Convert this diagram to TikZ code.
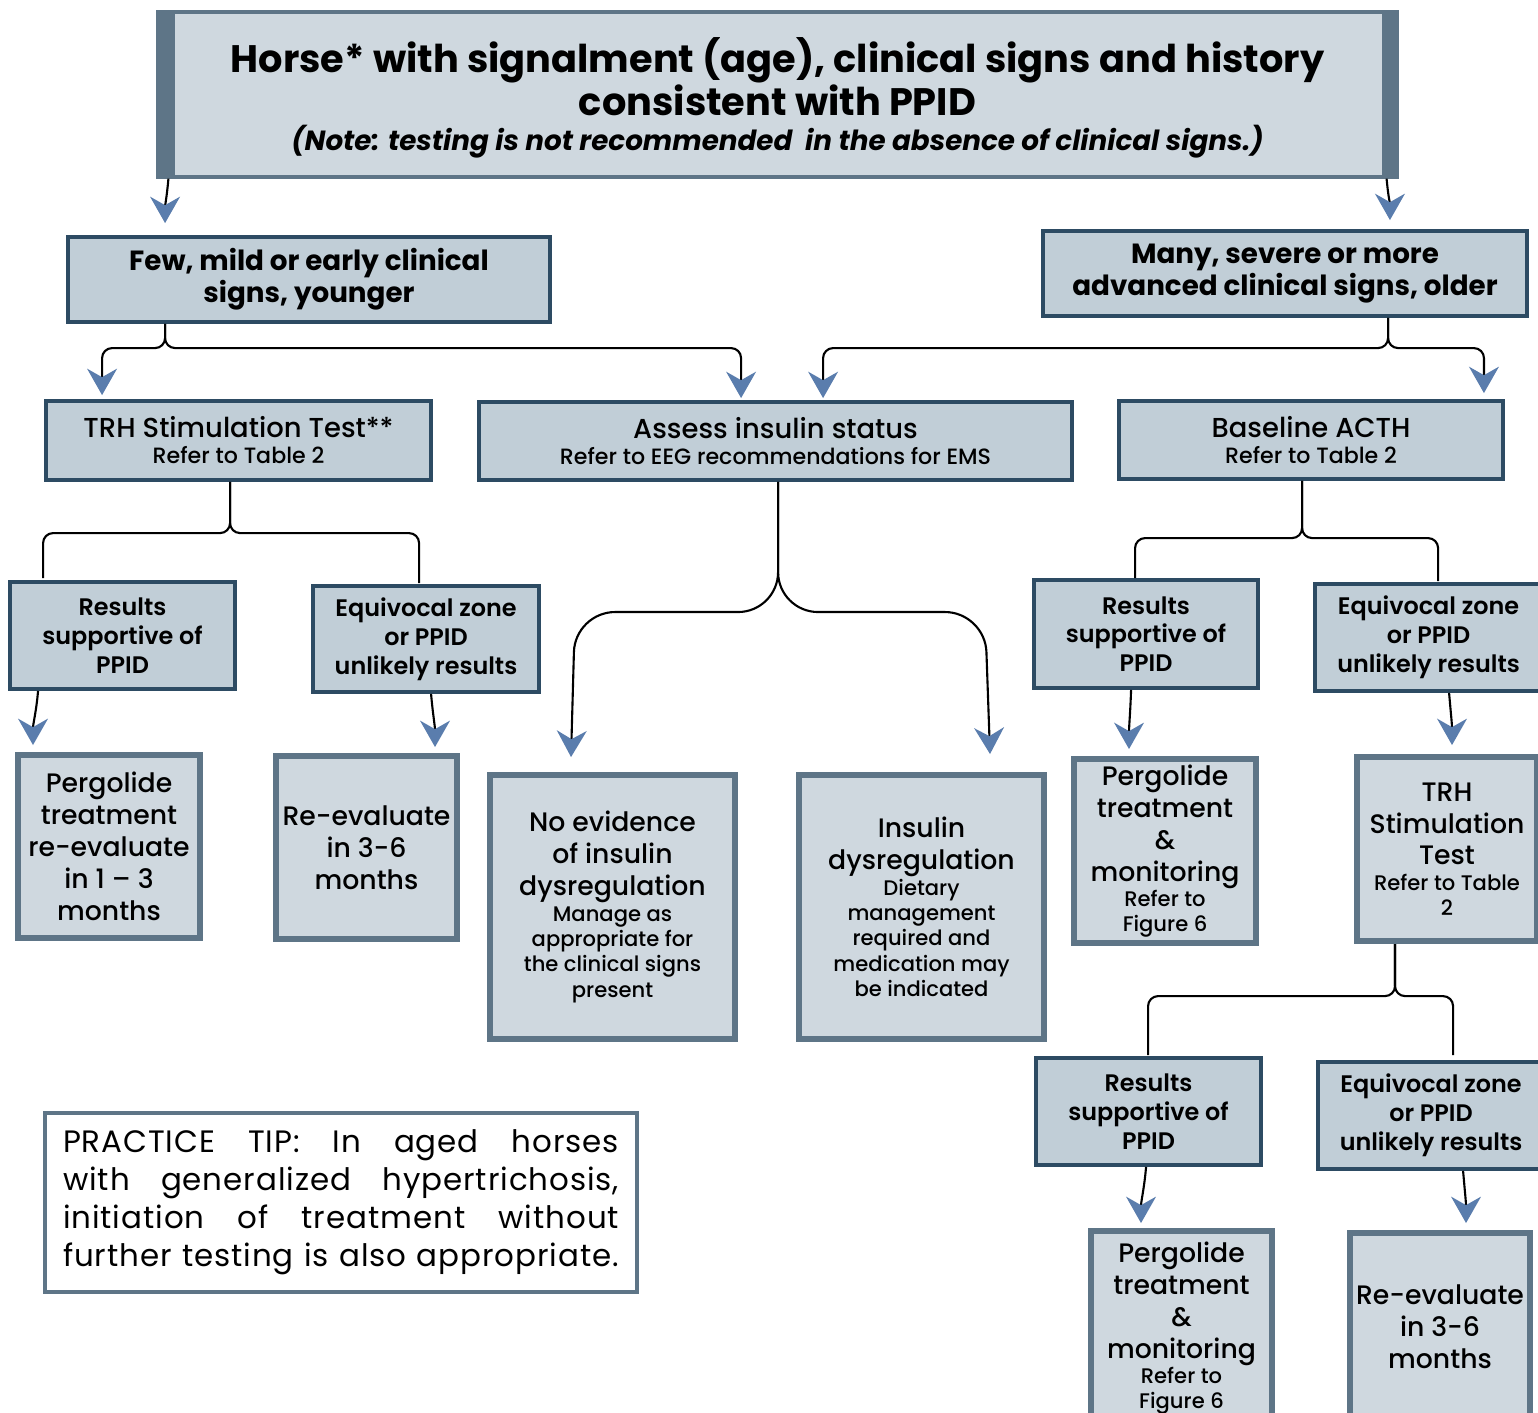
\documentclass[tikz,border=0pt]{standalone}
\usepackage{fontspec}
\setmainfont{Poppins}
\newfontfamily\semib{Poppins SemiBold}
\newfontfamily\medium{Poppins Medium}
\usepackage{tikz}
\usetikzlibrary{arrows.meta}
\usetikzlibrary{calc}
\usetikzlibrary{positioning}

\definecolor{deciFill}{HTML}{C1CED7}
\definecolor{deciLine}{HTML}{2D4B63}
\definecolor{outFill}{HTML}{CFD8DF}
\definecolor{outLine}{HTML}{5E7587}
\definecolor{tipBlue}{HTML}{5A7DAD}

\newcommand\nospread{\spaceskip=0pt\xspaceskip=0pt}
\newcommand\headfont{\bfseries\fontsize{10.9}{12.2}\selectfont\nospread}
\newcommand\notefont{\bfseries\itshape\fontsize{7.9}{10}\selectfont\nospread}
\newcommand\decifont{\bfseries\fontsize{7.9}{9.1}\selectfont\nospread}
\newcommand\testfont{\medium\fontsize{7.8}{8.4}\selectfont\nospread}
\newcommand\resfont{\semib\fontsize{6.8}{8.2}\selectfont\nospread}
\newcommand\outfont{\medium\fontsize{7.6}{9.1}\selectfont\nospread}
\newcommand\smallfont{\fontsize{6.3}{7.4}\selectfont\nospread}
\newcommand\subfont{\fontsize{6}{7.2}\selectfont\nospread}

\tikzset{
  topbox/.style={draw=outLine, fill=outFill, line width=0.9pt, align=flush center, inner sep=0pt},
  decision/.style={draw=deciLine, fill=deciFill, line width=1.1pt, align=flush center, inner sep=0pt},
  outcome/.style={draw=outLine, fill=outFill, line width=1.7pt, align=flush center, inner sep=0pt},
  tipbox/.style={draw=outLine, fill=white, line width=1.2pt, inner sep=0pt},
  link/.style={draw=black, line width=0.6pt, rounded corners=1mm},
  arrowlink/.style={link, -{Stealth[length=7.5pt, width=8.5pt, inset=2.4pt, color=tipBlue]}}
}

\begin{document}
\begin{tikzpicture}[x=0.1mm, y=-0.1mm]
  \useasboundingbox (0,0) rectangle (1538,1412);

  % top question
  \node[topbox, minimum width=12.39cm, minimum height=1.65cm, text width=12cm]
    (horse) at (777.5,94.5)
    {\headfont\rule{0pt}{12pt}Horse* with signalment (age), clinical signs and history\\consistent with PPID\par
     {\notefont (Note: testing is not recommended\ \ in the absence of clinical signs.)\par}};
  \fill[outLine] (horse.north west) rectangle ($(horse.south west)+(19,0)$);
  \fill[outLine] ($(horse.north east)+(-17,0)$) rectangle (horse.south east);

  % severity
  \node[decision, minimum width=4.82cm, minimum height=0.85cm, text width=4.8cm]
    (few) at (309,279.5) {\decifont Few, mild or early clinical\\signs, younger\par};
  \node[decision, minimum width=4.84cm, minimum height=0.85cm, text width=4.8cm]
    (many) at (1285,273.5) {\decifont Many, severe or more\\advanced clinical signs, older\par};

  % tests
  \node[decision, minimum width=3.85cm, minimum height=0.79cm, text width=3.8cm]
    (trhA) at (238.5,440.5) {\testfont TRH Stimulation Test**\par{\smallfont Refer to Table 2\par}};
  \node[decision, minimum width=5.93cm, minimum height=0.78cm, text width=5.9cm]
    (insulin) at (775.5,441) {\testfont Assess insulin status\par{\smallfont Refer to EEG recommendations for EMS\par}};
  \node[decision, minimum width=3.84cm, minimum height=0.78cm, text width=3.8cm]
    (acth) at (1311,440) {\testfont Baseline ACTH\par{\smallfont Refer to Table 2\par}};

  % results
  \node[decision, minimum width=2.25cm, minimum height=1.07cm, text width=2.25cm]
    (resA) at (122.5,635.5) {\resfont Results\\supportive of\\PPID\par};
  \node[decision, minimum width=2.26cm, minimum height=1.06cm, text width=2.26cm]
    (eqA) at (426,639) {\resfont Equivocal zone\\or PPID\\unlikely results\par};
  \node[decision, minimum width=2.24cm, minimum height=1.08cm, text width=2.24cm]
    (resB) at (1146,634) {\resfont Results\\supportive of\\PPID\par};
  \node[decision, minimum width=2.27cm, minimum height=1.07cm, text width=2.27cm]
    (eqB) at (1428.5,637.5) {\resfont Equivocal zone\\or PPID\\unlikely results\par};
  \node[decision, minimum width=2.25cm, minimum height=1.07cm, text width=2.25cm]
    (resC) at (1148.5,1111.5) {\resfont Results\\supportive of\\PPID\par};
  \node[decision, minimum width=2.26cm, minimum height=1.07cm, text width=2.26cm]
    (eqC) at (1431,1115.5) {\resfont Equivocal zone\\or PPID\\unlikely results\par};

  % outcomes
  \node[outcome, minimum width=1.82cm, minimum height=1.83cm, text width=1.82cm]
    (pergA) at (109,846.5) {\outfont Pergolide\\treatment\\re-evaluate\\in 1 – 3\\months\par};
  \node[outcome, minimum width=1.81cm, minimum height=1.83cm, text width=1.81cm]
    (reevA) at (366.5,847.5) {\outfont Re-evaluate\\in 3-6\\months\par};
  \node[outcome, minimum width=2.45cm, minimum height=2.64cm, text width=2.45cm]
    (noev) at (612.5,907) {\outfont No evidence\\of insulin\\dysregulation\par
      {\subfont Manage as\\appropriate for\\the clinical signs\\present\par}};
  \node[outcome, minimum width=2.45cm, minimum height=2.64cm, text width=2.45cm]
    (insdys) at (921.5,907) {\outfont Insulin\\dysregulation\par
      {\subfont Dietary\\management\\required and\\medication may\\be indicated\par}};
  \node[outcome, minimum width=1.82cm, minimum height=1.84cm, text width=1.82cm]
    (pergB) at (1165,851) {\outfont Pergolide\\treatment\\\&\\monitoring\par
      {\subfont Refer to\\Figure 6\par}};
  \node[outcome, minimum width=1.80cm, minimum height=1.84cm, text width=1.80cm]
    (trhB) at (1447,849) {\outfont TRH\\Stimulation\\Test\par
      {\subfont Refer to Table\\2\par}};
  \node[outcome, minimum width=1.81cm, minimum height=1.94cm, text width=1.81cm]
    (pergC) at (1181.5,1328) {\outfont Pergolide\\treatment\\\&\\monitoring\par
      {\subfont Refer to\\Figure 6\par}};
  \node[outcome, minimum width=1.80cm, minimum height=1.87cm, text width=1.80cm]
    (reevC) at (1440,1326.5) {\outfont Re-evaluate\\in 3-6\\months\par};

  % practice tip
  \node[tipbox, minimum width=5.92cm, minimum height=1.79cm, text width=5.56cm]
    (tip) at (341,1202.5)
    {\fontsize{8.8}{10.8}\selectfont\addfontfeature{LetterSpace=3}%
     \spaceskip=0.25em plus 1em\relax
     \makebox[5.56cm][s]{PRACTICE TIP: In aged horses}\\
     \makebox[5.56cm][s]{with generalized hypertrichosis,}\\
     \makebox[5.56cm][s]{initiation of treatment without}\\
     \makebox[5.56cm][s]{further testing is also appropriate.}\par};

  % connectors
  \draw[arrowlink] ($(horse.south west)+(12,0)$) to[out=-95,in=90] ($(few.north west)+(99,-12)$);
  \draw[arrowlink] ($(horse.south east)+(-12,0)$) to[out=-85,in=90] ($(many.north east)+(-139,-9)$);

  \draw[arrowlink] ($(few.south west)+(99,0)$) |- ($(trhA.north west)+(58,-51)$) -- ($(trhA.north west)+(58,-4)$);
  \draw[arrowlink] ($(few.south west)+(99,0)$) |- ($(insulin.north west)+(264,-52)$) -- ($(insulin.north west)+(264,-2)$);
  \draw[arrowlink] ($(many.south west)+(347,0)$) |- ($(insulin.north west)+(346,-52)$) -- ($(insulin.north west)+(346,-2)$);
  \draw[arrowlink] ($(many.south west)+(347,0)$) |- ($(acth.north east)+(-21,-51)$) -- ($(acth.north east)+(-21,-6)$);

  \draw[link] ($(trhA.south west)+(186,0)$) |- ($(resA.north west)+(35,-47)$) -- ($(resA.north west)+(35,-2)$);
  \draw[link] ($(trhA.south west)+(186,0)$) |- ($(eqA.north west)+(108,-51)$) -- ($(eqA.north west)+(108,-1)$);

  \draw[arrowlink, rounded corners=4mm] ($(insulin.south west)+(301,0)$) |- ($(noev.north west)+(88,-160)$) -- ($(noev.north west)+(84,-15)$);
  \draw[arrowlink, rounded corners=4mm] ($(insulin.south west)+(301,0)$) |- ($(insdys.north west)+(189,-160)$) -- ($(insdys.north west)+(194,-18)$);

  \draw[link] ($(acth.south west)+(185,0)$) |- ($(resB.north west)+(103,-40)$) -- ($(resB.north west)+(103,0)$);
  \draw[link] ($(acth.south west)+(185,0)$) |- ($(eqB.north west)+(125,-44)$) -- ($(eqB.north west)+(125,-1)$);

  \draw[link] ($(trhB.south west)+(41,0)$) |- ($(resC.north west)+(114,-60)$) -- ($(resC.north west)+(114,-1)$);
  \draw[link] ($(trhB.south west)+(41,0)$) |- ($(eqC.north west)+(137,-64)$) -- ($(eqC.north west)+(137,-5)$);

  \draw[arrowlink] ($(resA.south west)+(30,0)$) to[out=-95,in=90] ($(pergA.north west)+(18,-7)$);
  \draw[arrowlink] ($(eqA.south west)+(120,0)$) to[out=-85,in=90] ($(reevA.north west)+(162,-6)$);
  \draw[arrowlink] ($(resB.south west)+(99,0)$) to[out=-92,in=90] ($(pergB.north west)+(58,-7)$);
  \draw[arrowlink] ($(eqB.south west)+(136,0)$) to[out=-85,in=90] ($(trhB.north west)+(98,-9)$);
  \draw[arrowlink] ($(resC.south west)+(112,0)$) to[out=-95,in=90] ($(pergC.north west)+(53,-5)$);
  \draw[arrowlink] ($(eqC.south west)+(147,0)$) to[out=-85,in=90] ($(reevC.north west)+(119,-7)$);

\end{tikzpicture}
\end{document}
